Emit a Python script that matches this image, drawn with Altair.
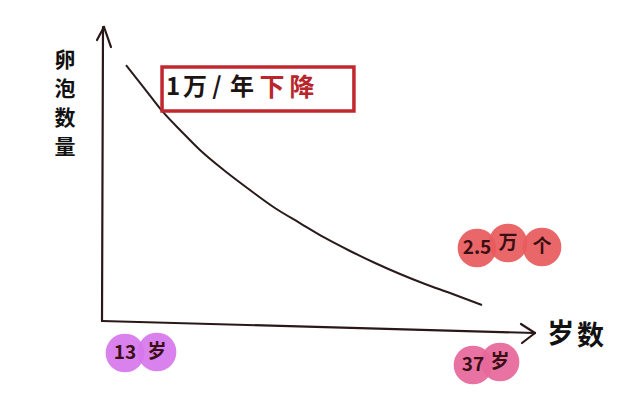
import altair as alt
import pandas as pd

# ---- data (age in years, follicle count in 万) ----
ages = [13.07, 14.34, 15.55, 16.83, 18.04, 19.72, 21.40, 23.08, 24.76,
        26.45, 28.13, 29.81, 31.49, 33.17, 34.85, 37.0]
counts = [31.07, 28.21, 25.48, 23.10, 20.95, 18.45, 16.19, 14.05, 12.26,
          10.48, 8.93, 7.50, 6.19, 5.00, 3.93, 2.5]

start_age = 13
end_age = 37
end_count_label = "2.5"

X_DOM = [5.1345, 47.084]
Y_DOM = [-8.095, 37.857]

xs = alt.Scale(domain=X_DOM, nice=False, zero=False)
ys = alt.Scale(domain=Y_DOM, nice=False, zero=False)

curve_df = pd.DataFrame({"age": ages, "count": counts})

# hand-drawn axes (segments) in data units
axes_df = pd.DataFrame({
    "x":  [11.454, 11.454, 40.563, 40.563, 11.588, 11.588],
    "y":  [0.595, 0.595, -0.833, -0.833, 35.595, 35.595],
    "x2": [11.521, 40.563, 39.62, 39.69, 11.118, 12.059],
    "y2": [35.595, -0.833, 0.238, -2.024, 34.05, 33.21],
})

# bubbles
bub_df = pd.DataFrame({
    "age":   [36.664, 38.748, 41.034, 36.395, 38.21, 13.0, 15.151],
    "count": [9.286, 9.881, 9.405, -4.643, -4.286, -3.214, -3.095],
    "col":   ["#e85a5c", "#e85a5c", "#e85a5c", "#e6679a", "#e6679a", "#d676ec", "#d676ec"],
    "txt":   [end_count_label, "万", "个", str(end_age), "岁", str(start_age), "岁"],
})

# box
box_df = pd.DataFrame({"x": [15.49], "x2": [28.39], "y": [30.83], "y2": [25.60]})

lab_df = pd.DataFrame({
    "age":   [16.23, 17.71, 19.18, 20.87, 22.88, 24.90,
              8.966, 8.966, 8.966, 8.966, 42.29, 44.30],
    "count": [28.33, 28.33, 28.33, 28.33, 28.33, 28.33,
              31.60, 28.10, 24.70, 21.19, -1.07, -1.31],
    "txt":   ["1", "万", "/", "年", "下", "降",
              "卵", "泡", "数", "量", "岁", "数"],
    "col":   ["#1e1414", "#1e1414", "#1e1414", "#1e1414", "#b8262c", "#b8262c",
              "#111111", "#111111", "#111111", "#111111", "#111111", "#111111"],
    "sz":    [24, 24, 24, 24, 25, 25, 21, 21, 21, 21, 27, 27],
})

X = lambda f: alt.X(f, type="quantitative", scale=xs, axis=None)
Y = lambda f: alt.Y(f, type="quantitative", scale=ys, axis=None)

axes = alt.Chart(axes_df).mark_rule(color="#2a1818", strokeWidth=2.2, strokeCap="round").encode(
    x=X("x"), y=Y("y"), x2="x2", y2="y2")

curve = alt.Chart(curve_df).mark_line(color="#2a1a1a", strokeWidth=2, interpolate="monotone").encode(
    x=X("age"), y=Y("count"))

box = alt.Chart(box_df).mark_rect(fill="white", fillOpacity=0, stroke="#c0282e", strokeWidth=3.5).encode(
    x=X("x"), x2="x2", y=Y("y"), y2="y2")

bubbles = alt.Chart(bub_df).mark_circle(size=1500, opacity=0.92).encode(
    x=X("age"), y=Y("count"), color=alt.Color("col:N", scale=None))

bubble_txt = alt.Chart(bub_df).mark_text(font="Noto Sans CJK SC", fontWeight="bold", fontSize=19,
                                         color="#3a0f14").encode(
    x=X("age"), y=Y("count"), text="txt:N")

labels = alt.Chart(lab_df).mark_text(font="Noto Sans CJK SC", fontWeight="bold").encode(
    x=X("age"), y=Y("count"), text="txt:N",
    color=alt.Color("col:N", scale=None), size=alt.Size("sz:Q", scale=None))

chart = alt.layer(axes, curve, box, bubbles, bubble_txt, labels).properties(
    width=624, height=386, padding=0, autosize=alt.AutoSizeParams(type="none")
).configure(background="white").configure_view(stroke=None)

chart.save("out.html", embed_options={"renderer": "svg", "actions": False})
